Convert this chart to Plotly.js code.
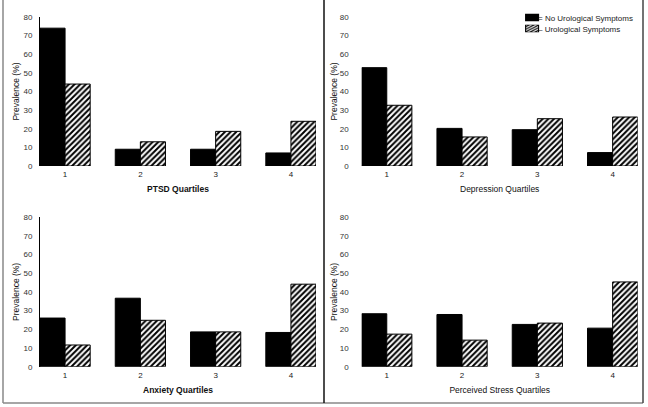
<!DOCTYPE html>
<html>
<head>
<meta charset="utf-8">
<script src="https://cdn.plot.ly/plotly-3.0.1.min.js"></script>
<style>html,body{margin:0;padding:0;background:#fff;}#chart{width:648px;height:407px;}</style>
</head>
<body>
<div id="chart"></div>
<script>
var quartiles = ['1', '2', '3', '4'];
var panelTitles = ['PTSD Quartiles', 'Depression Quartiles', 'Anxiety Quartiles', 'Perceived Stress Quartiles'];
var seriesNames = ['= No Urological Symptoms', '\u2013 Urological Symptoms'];
var yTicks = [0, 10, 20, 30, 40, 50, 60, 70, 80];

var ptsdNo = [74, 9, 9, 7];
var ptsdUro = [44, 13, 18.6, 24];
var depressionNo = [52.8, 20.2, 19.5, 7.2];
var depressionUro = [32.6, 15.6, 25.4, 26.3];
var anxietyNo = [26, 36.6, 18.6, 18.3];
var anxietyUro = [11.6, 24.8, 18.6, 44.1];
var stressNo = [28.3, 27.9, 22.6, 20.6];
var stressUro = [17.4, 14.2, 23.3, 45.3];

var noSeries = [ptsdNo, depressionNo, anxietyNo, stressNo];
var uroSeries = [ptsdUro, depressionUro, anxietyUro, stressUro];

var W = 648, H = 407;
function px(x) { return x / W; }
function py(y) { return 1 - y / H; }

var xDomains = [[px(40), px(316)], [px(361.7), px(637.7)], [px(40), px(316)], [px(361.7), px(637.7)]];
var yDomains = [[py(166), py(17)], [py(166), py(17)], [py(366.7), py(217)], [py(366.7), py(217)]];

var font = 'Arial, "Liberation Sans", sans-serif';
var traces = [];
var legendFont = {family: font, size: 8, color: '#222'};
var layout = {
  width: W, height: H,
  margin: {l: 0, r: 0, t: 0, b: 0},
  paper_bgcolor: '#fff', plot_bgcolor: '#fff',
  barmode: 'group', bargap: 0.333, bargroupgap: 0,
  font: {family: font, color: '#222', size: 8},
  showlegend: true,
  legend: {x: px(498), y: py(17.5), xanchor: 'left', yanchor: 'middle',
           bgcolor: 'rgba(0,0,0,0)', font: legendFont, itemwidth: 30},
  legend2: {x: px(498), y: py(28.5), xanchor: 'left', yanchor: 'middle',
           bgcolor: 'rgba(0,0,0,0)', font: legendFont, itemwidth: 30},
  shapes: []
};

for (var i = 0; i < 4; i++) {
  var sfx = i === 0 ? '' : String(i + 1);
  traces.push({
    type: 'bar', x: quartiles, y: noSeries[i], name: seriesNames[0],
    xaxis: 'x' + sfx, yaxis: 'y' + sfx, showlegend: i === 0, legend: 'legend',
    marker: {color: '#000', line: {color: '#000', width: 1}}, hoverinfo: 'skip'
  });
  traces.push({
    type: 'bar', x: quartiles, y: uroSeries[i], name: seriesNames[1],
    xaxis: 'x' + sfx, yaxis: 'y' + sfx, showlegend: i === 0, legend: 'legend2',
    marker: {color: '#fff', line: {color: '#000', width: 1},
             pattern: {shape: '/', fgcolor: '#000', bgcolor: '#fff', size: 4, solidity: 0.5}},
    hoverinfo: 'skip'
  });
  var left = (i % 2 === 0);
  layout['xaxis' + sfx] = {
    domain: xDomains[i], anchor: 'y' + sfx, type: 'category',
    range: [-0.333, 3.333], showline: false, ticks: '', showgrid: false, zeroline: false,
    tickfont: {family: font, size: 8, color: '#222'}, ticklabelstandoff: 2,
    title: {text: panelTitles[i], font: {family: font, size: 8.5, color: '#111',
            weight: left ? 'bold' : 'normal'}, standoff: 8},
    fixedrange: true
  };
  layout['yaxis' + sfx] = {
    domain: yDomains[i], anchor: 'x' + sfx, range: [0, 80],
    tickvals: yTicks, ticks: '', showgrid: false, zeroline: false,
    showline: left, linecolor: '#000', linewidth: 1,
    tickfont: {family: font, size: 8, color: '#333'}, ticklabelstandoff: left ? 5 : 12,
    title: {text: 'Prevalence (%)', font: {family: font, size: 8.5, color: '#111'}, standoff: left ? 2 : 0},
    fixedrange: true
  };
}

// panel frame lines
layout.shapes.push({type: 'line', xref: 'paper', yref: 'paper', x0: px(3), x1: px(3), y0: py(0), y1: py(403), line: {color: '#888', width: 1.5}});
layout.shapes.push({type: 'line', xref: 'paper', yref: 'paper', x0: px(3), x1: px(643), y0: py(403), y1: py(403), line: {color: '#888', width: 1.5}});
layout.shapes.push({type: 'line', xref: 'paper', yref: 'paper', x0: px(324), x1: px(324), y0: py(0), y1: py(403), line: {color: '#111', width: 1.5}});
layout.shapes.push({type: 'line', xref: 'paper', yref: 'paper', x0: px(643), x1: px(643), y0: py(0), y1: py(403), line: {color: '#444', width: 1.5}});

Plotly.newPlot('chart', traces, layout, {staticPlot: true, displayModeBar: false}).then(function (gd) {
  // make legend swatches wide, short rectangles sitting right before the text
  var pts = gd.querySelectorAll('.legendpoints');
  pts.forEach(function (el) {
    var t = el.getAttribute('transform') || '';
    el.setAttribute('transform', t + ' translate(12.5,0) scale(1.08,0.58)');
  });
});
</script>
</body>
</html>
